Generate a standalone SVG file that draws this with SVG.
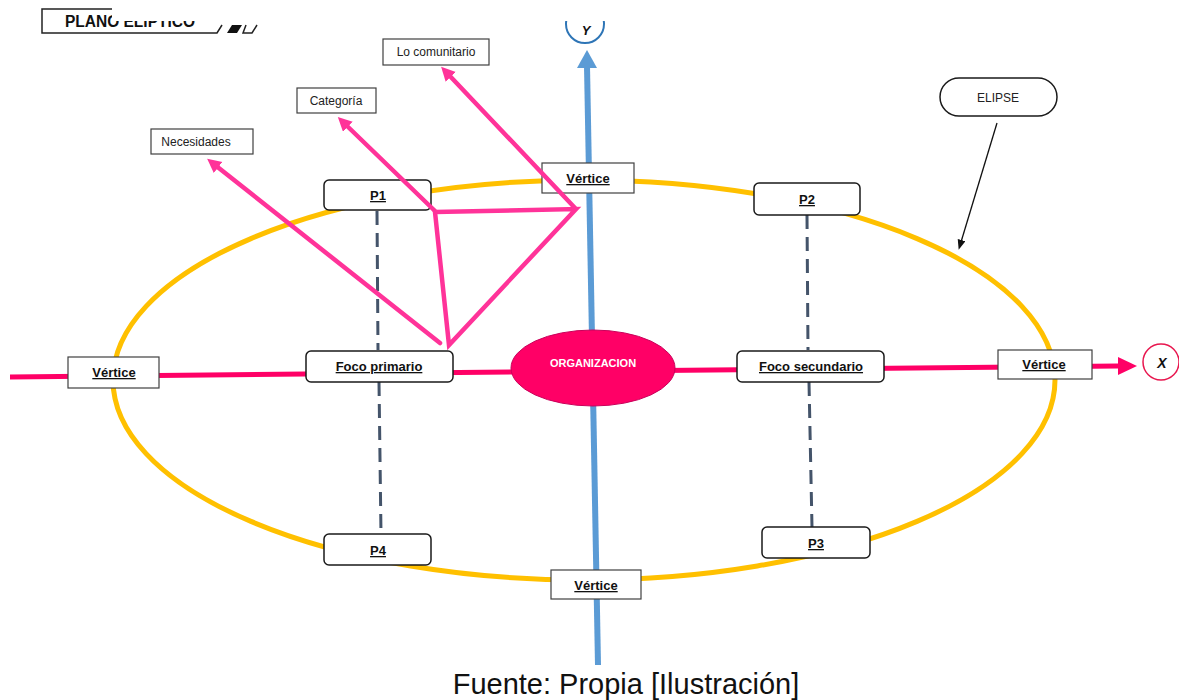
<svg xmlns="http://www.w3.org/2000/svg" width="1179" height="700" viewBox="0 0 1179 700">
<style>
.node{fill:#fff;stroke:#1a1a1a;stroke-width:1.5}
.box{fill:#fff;stroke:#404040;stroke-width:1.2}
.bl{font-family:"Liberation Sans",Arial,sans-serif;font-weight:bold;font-size:13px;fill:#111;text-anchor:middle;text-decoration:underline}
.lab{font-family:"Liberation Sans",Arial,sans-serif;font-size:12px;fill:#222;text-anchor:middle}
.pink{stroke:#FF3399;stroke-width:4.5;fill:none;stroke-linecap:round}
.dash{stroke:#44546A;stroke-width:3;stroke-dasharray:14 8;fill:none}
</style>
<defs>
<marker id="ap" markerUnits="userSpaceOnUse" markerWidth="16" markerHeight="16" refX="4" refY="7" orient="auto"><path d="M0,0 L14,7 L0,14 z" fill="#FF3399"/></marker>
<marker id="ab" markerUnits="userSpaceOnUse" markerWidth="12" markerHeight="12" refX="2" refY="4" orient="auto"><path d="M0,0 L10,4 L0,8 z" fill="#111"/></marker>
<clipPath id="topclip"><rect x="0" y="0" width="112" height="700"/><rect x="0" y="21" width="1179" height="679"/></clipPath>
</defs>
<rect width="1179" height="700" fill="#fff"/>

<g id="header" clip-path="url(#topclip)">
<path d="M112,9 H42 V33 H217 L222,25" fill="none" stroke="#222" stroke-width="1.5"/>
<path d="M112,9 H230" fill="none" stroke="#222" stroke-width="1.5"/>
<polygon points="227,33 232,25 242,25 237,33" fill="#111"/>
<path d="M246,25 L243,33 H252 L257,25" fill="none" stroke="#222" stroke-width="1.5"/>
<text x="65" y="27" font-family="Liberation Sans,Arial,sans-serif" font-weight="bold" font-size="16" fill="#111" textLength="130" lengthAdjust="spacingAndGlyphs">PLANO ELIPTICO</text>
</g>

<g id="ellipse-curve">
<ellipse cx="584" cy="380" rx="471" ry="200" fill="none" stroke="#FFC000" stroke-width="5"/>
</g>

<g id="connectors">
<line x1="10" y1="377" x2="1118" y2="366" stroke="#FF0066" stroke-width="5"/>
<polygon points="1118,357 1137,366 1118,375" fill="#FF0066"/>
<line x1="598" y1="665" x2="587" y2="66" stroke="#5B9BD5" stroke-width="6"/>
<polygon points="577,68 587,50 597,68" fill="#5B9BD5"/>
<path class="dash" d="M377,211 L378,350"/>
<path class="dash" d="M379,382 L381,534"/>
<path class="dash" d="M807,215 L808,350"/>
<path class="dash" d="M809,382 L812,527"/>
<line x1="997" y1="123" x2="961" y2="242" stroke="#111" stroke-width="1.3" marker-end="url(#ab)"/>
</g>

<g id="y-label" clip-path="url(#topclip)">
<circle cx="585" cy="24" r="19" fill="#fff" stroke="#2E75B6" stroke-width="2"/>
<text x="586" y="35" font-family="Liberation Sans,Arial,sans-serif" font-weight="bold" font-style="italic" font-size="13" text-anchor="middle" fill="#111">Y</text>
</g>

<g id="x-label">
<circle cx="1161" cy="362" r="18" fill="#fff" stroke="#E8174F" stroke-width="1.5"/>
<text x="1162" y="368" font-family="Liberation Sans,Arial,sans-serif" font-weight="bold" font-style="italic" font-size="14" text-anchor="middle" fill="#111">X</text>
</g>

<g id="vertice-top"><rect class="box" x="542" y="163" width="92" height="30"/><text class="bl" x="588" y="183">Vértice</text></g>
<g id="vertice-bottom"><rect class="box" x="551" y="570" width="90" height="29"/><text class="bl" x="596" y="590">Vértice</text></g>
<g id="vertice-left"><rect class="box" x="68" y="357" width="91" height="31"/><text class="bl" x="114" y="377">Vértice</text></g>
<g id="vertice-right"><rect class="box" x="998" y="350" width="94" height="29"/><text class="bl" x="1044" y="369">Vértice</text></g>
<g id="p1"><rect class="node" x="324" y="180" width="107" height="30" rx="5"/><text class="bl" x="378" y="200">P1</text></g>
<g id="p2"><rect class="node" x="754" y="183" width="106" height="32" rx="5"/><text class="bl" x="807" y="204">P2</text></g>
<g id="p3"><rect class="node" x="762" y="527" width="108" height="31" rx="5"/><text class="bl" x="816" y="548">P3</text></g>
<g id="p4"><rect class="node" x="324" y="534" width="107" height="31" rx="5"/><text class="bl" x="378" y="555">P4</text></g>
<g id="foco-primario"><rect class="node" x="306" y="351" width="147" height="31" rx="5"/><text class="bl" x="379" y="371">Foco primario</text></g>
<g id="foco-secundario"><rect class="node" x="737" y="351" width="147" height="31" rx="5"/><text class="bl" x="811" y="371">Foco secundario</text></g>
<g id="organizacion">
<ellipse cx="593" cy="368" rx="82" ry="38" fill="#FF0066" stroke="#C9005A" stroke-width="1"/>
<text x="593" y="367" font-family="Liberation Sans,Arial,sans-serif" font-weight="bold" font-size="11" text-anchor="middle" fill="#fff">ORGANIZACION</text>
</g>
<g id="elipse"><rect class="node" x="940" y="78" width="117" height="38" rx="19" stroke-width="1.3"/><text class="lab" x="998" y="102" font-size="11">ELIPSE</text></g>
<g id="lo-comunitario"><rect class="box" x="383" y="39" width="106" height="26"/><text class="lab" x="436" y="56">Lo comunitario</text></g>
<g id="categoria"><rect class="box" x="297" y="88" width="79" height="25"/><text class="lab" x="336" y="105">Categoría</text></g>
<g id="necesidades"><rect class="box" x="151" y="129" width="102" height="25"/><text class="lab" x="196" y="146">Necesidades</text></g>

<g id="pink-connectors">
<polygon points="435,212 576,209 449,345" class="pink" stroke-linejoin="miter"/>
<line class="pink" x1="440" y1="343" x2="215" y2="165" marker-end="url(#ap)"/>
<line class="pink" x1="435" y1="211" x2="345" y2="124" marker-end="url(#ap)"/>
<line class="pink" x1="575" y1="208" x2="448" y2="74" marker-end="url(#ap)"/>
</g>

<text x="626" y="694" font-family="Liberation Sans,Arial,sans-serif" font-size="29" text-anchor="middle" fill="#111">Fuente: Propia [Ilustración]</text>
</svg>
